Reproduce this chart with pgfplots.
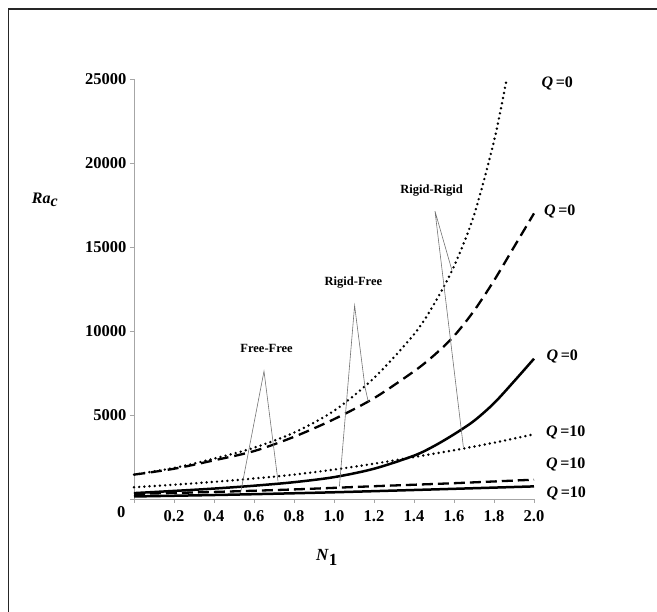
\documentclass[border=0pt]{standalone}
\usepackage{pgfplots}
\pgfplotsset{compat=1.18}
\usepackage{fontspec}
\setmainfont{Liberation Serif}
\begin{document}
\begin{tikzpicture}[x=1pt,y=1pt]
\useasboundingbox (0,0) rectangle (657,612);
\draw[line width=1.3pt, black!85] (8.3,0) -- (8.3,603) -- (657,603);
\begin{axis}[
  at={(134pt,113pt)}, anchor=south west,
  scale only axis, width=400pt, height=420pt,
  xmin=0, xmax=2, ymin=0, ymax=25000,
  axis x line=bottom, axis y line=left,
  axis line style={gray!70, line width=0.8pt, -},
  every tick/.style={gray!70, line width=0.8pt},
  tick align=outside, major tick length=4pt,
  xtick={0,0.2,0.4,0.6,0.8,1.0,1.2,1.4,1.6,1.8,2.0},
  xticklabels={,0.2,0.4,0.6,0.8,1.0,1.2,1.4,1.6,1.8,2.0},
  ytick={0,5000,10000,15000,20000,25000},
  yticklabels={,5000,10000,15000,20000,25000},
  scaled y ticks=false,
  tick label style={font=\fontsize{16.5}{16.5}\selectfont\bfseries, black},
  xticklabel style={yshift=-4pt},
  clip=false,
]
% Rigid-Rigid Q=0 (dotted)
\addplot[black, line width=2.7pt, line cap=round, dash pattern=on 0pt off 5.2pt, smooth] coordinates {
 (0,1450)(0.2,1850)(0.4,2400)(0.6,3050)(0.8,3950)(1.0,5250)(1.2,7200)(1.4,9800)(1.5,11600)(1.6,13850)(1.7,16900)(1.8,21300)(1.86,24800)};
% Rigid-Free Q=0 (dashed)
\addplot[black, line width=2.3pt, dash pattern=on 11pt off 6pt, smooth] coordinates {
 (0,1450)(0.2,1800)(0.4,2300)(0.6,2850)(0.8,3700)(1.0,4750)(1.2,6000)(1.4,7600)(1.5,8550)(1.6,9700)(1.7,11200)(1.8,13000)(1.9,15000)(2.0,17000)};
% Free-Free Q=0 (solid)
\addplot[black, line width=2.5pt, smooth] coordinates {
 (0,350)(0.2,480)(0.4,620)(0.6,790)(0.8,1000)(1.0,1300)(1.2,1800)(1.4,2580)(1.5,3150)(1.6,3850)(1.7,4650)(1.8,5700)(1.9,7000)(2.0,8350)};
% Rigid-Rigid Q=10 (dotted)
\addplot[black, line width=2.7pt, line cap=round, dash pattern=on 0pt off 5.2pt, smooth] coordinates {
 (0,700)(0.2,850)(0.4,1020)(0.6,1220)(0.8,1450)(1.0,1750)(1.2,2100)(1.4,2500)(1.6,2900)(1.8,3350)(2.0,3850)};
% Rigid-Free Q=10 (dashed)
\addplot[black, line width=2.3pt, dash pattern=on 11pt off 5pt, smooth] coordinates {
 (0,300)(0.4,420)(0.8,570)(1.2,760)(1.6,940)(2.0,1150)};
% Free-Free Q=10 (solid)
\addplot[black, line width=2.5pt, smooth] coordinates {
 (0,150)(0.5,260)(1.0,400)(1.5,570)(2.0,750)};
% pointer lines
\addplot[black!55, line width=0.6pt] coordinates {(0.533,369)(0.65,7607)(0.72,1060)};
\addplot[black!55, line width=0.6pt] coordinates {(1.027,744)(1.103,11518)(1.155,6655)(1.172,5762)};
\addplot[black!55, line width=0.6pt] coordinates {(1.647,3083)(1.505,17131)(1.59,13600)};
% annotation labels
\node[font=\fontsize{12.5}{12.5}\selectfont\bfseries] at (axis cs:0.663,8940) {Free-Free};
\node[font=\fontsize{12.5}{12.5}\selectfont\bfseries] at (axis cs:1.097,12900) {Rigid-Free};
\node[font=\fontsize{12.5}{12.5}\selectfont\bfseries] at (axis cs:1.488,18363) {Rigid-Rigid};
% Q labels
\node[anchor=west, font=\fontsize{16}{16}\selectfont\bfseries] at (axis cs:2.02,24750) {\textit{Q}\,=0};
\node[anchor=west, font=\fontsize{16}{16}\selectfont\bfseries] at (axis cs:2.033,17130) {\textit{Q}\,=0};
\node[anchor=west, font=\fontsize{16}{16}\selectfont\bfseries] at (axis cs:2.045,8480) {\textit{Q}\,=0};
\node[anchor=west, font=\fontsize{16}{16}\selectfont\bfseries] at (axis cs:2.043,3980) {\textit{Q}\,=10};
\node[anchor=west, font=\fontsize{16}{16}\selectfont\bfseries] at (axis cs:2.043,2060) {\textit{Q}\,=10};
\node[anchor=west, font=\fontsize{16}{16}\selectfont\bfseries] at (axis cs:2.045,310) {\textit{Q}\,=10};
% axis labels
\node[font=\fontsize{16.5}{16.5}\selectfont\bfseries] at (rel axis cs:-0.032,-0.031) {0};
\node[font=\fontsize{16}{16}\selectfont\bfseries] at (rel axis cs:-0.2225,0.712) {\textit{Ra}$_{\textbf{\textit{c}}}$};
\node[font=\fontsize{17}{17}\selectfont\bfseries] at (rel axis cs:0.4825,-0.14) {\textit{N}$_{\textbf{1}}$};
\end{axis}
\end{tikzpicture}
\end{document}
